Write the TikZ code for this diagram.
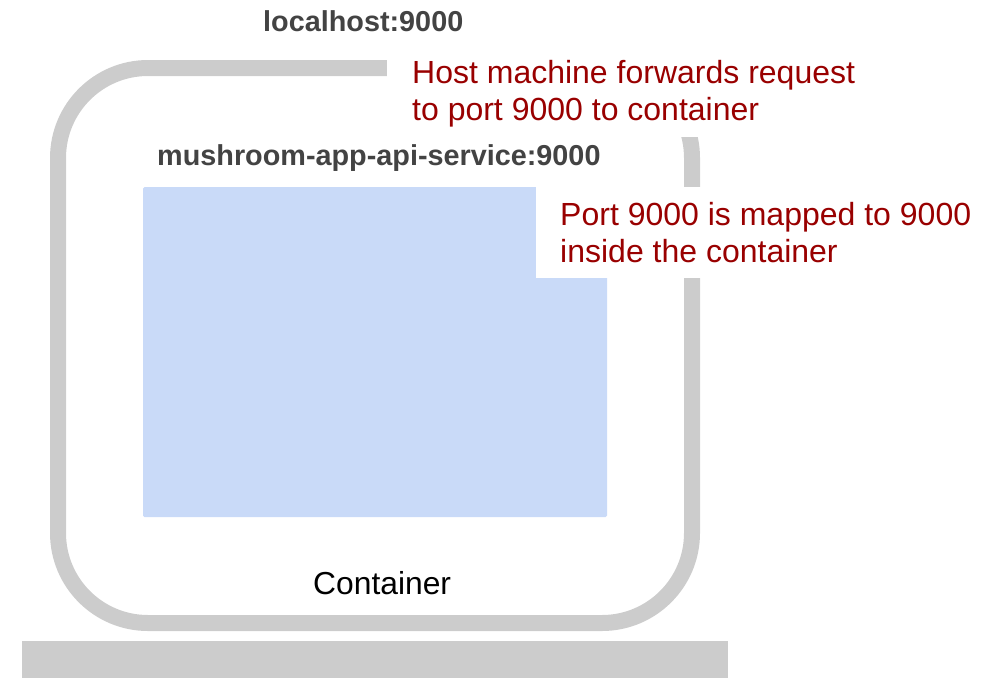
\documentclass[tikz,border=0pt]{standalone}
\usepackage{fontspec}
\setmainfont{Liberation Sans}
\definecolor{framegray}{HTML}{CCCCCC}
\definecolor{appblue}{HTML}{C9DAF8}
\definecolor{labelgray}{HTML}{434343}
\definecolor{notered}{HTML}{990000}
\begin{document}
\begin{tikzpicture}[x=1pt,y=-1pt,
  boldlabel/.style={anchor=base west,inner sep=0pt,text=labelgray,font=\fontsize{28.8}{34}\selectfont\bfseries},
  note/.style={anchor=base west,inner sep=0pt,text=notered,font=\fontsize{32}{37}\selectfont},
  plain/.style={anchor=base west,inner sep=0pt,text=black,font=\fontsize{31.8}{37}\selectfont}]
\useasboundingbox (0,0) rectangle (1000,678);
% container outline
\draw[framegray,line width=16pt,rounded corners=90pt] (58,68) rectangle (692,623);
% host base bar
\fill[framegray] (22,641) rectangle (728,678);
% app box
\fill[appblue,rounded corners=1.5pt] (143,187) rectangle (607,517);
% white backgrounds behind notes
\fill[white] (387,42) rectangle (890,137);
\fill[white] (536,187) rectangle (990,278);
% labels
\node[boldlabel] (lh) at (263,31) {localhost:9000};
\node[boldlabel] (svc) at (157,165) {mushroom-app-api-service:9000};
\node[note] (hostA) at (412,83) {Host machine forwards request};
\node[note] (hostB) at (412,120) {to port 9000 to container};
\node[note] (portA) at (560,225) {Port 9000 is mapped to 9000};
\node[note] (portB) at (560,262) {inside the container};
\node[plain] (cont) at (313,594) {Container};
\end{tikzpicture}
\end{document}
